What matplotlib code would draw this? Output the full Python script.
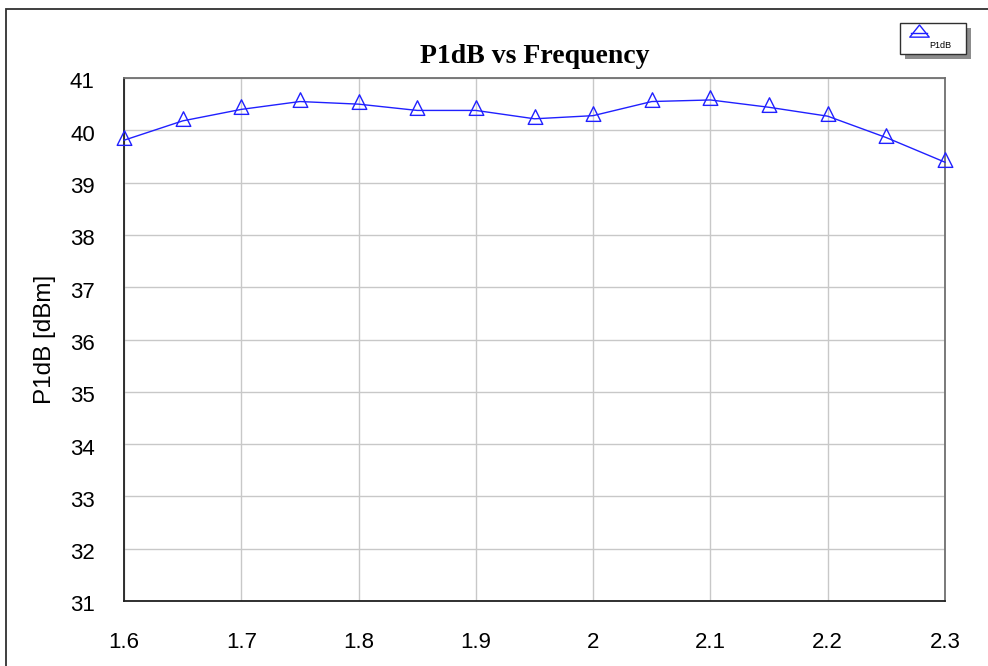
import matplotlib.pyplot as plt
from matplotlib.patches import Rectangle
from matplotlib.path import Path
from matplotlib.lines import Line2D
from matplotlib.transforms import ScaledTranslation

# P1dB measured across the band
freq = [1.6, 1.65, 1.7, 1.75, 1.8, 1.85, 1.9, 1.95, 2.0, 2.05, 2.1, 2.15, 2.2, 2.25, 2.3]
p1db = [39.81, 40.18, 40.40, 40.55, 40.50, 40.38, 40.38, 40.22, 40.28, 40.55, 40.58, 40.44, 40.27, 39.86, 39.39]

xticks = [1.6, 1.7, 1.8, 1.9, 2.0, 2.1, 2.2, 2.3]
xticklabels = ["1.6", "1.7", "1.8", "1.9", "2", "2.1", "2.2", "2.3"]
yticks = list(range(31, 42))

plt.rcParams["font.family"] = ["Liberation Sans", "DejaVu Sans"]

# triangle with its centroid on the data point
tri = Path([(0, 2), (-1.5, -1), (1.5, -1), (0, 2)],
           [Path.MOVETO, Path.LINETO, Path.LINETO, Path.CLOSEPOLY])
# flatter triangle for the legend key
tri_flat = Path([(0, 1.4), (-1.6, -0.6), (1.6, -0.6), (0, 1.4)],
                [Path.MOVETO, Path.LINETO, Path.LINETO, Path.CLOSEPOLY])

fig = plt.figure(figsize=(9.88, 6.66), dpi=100)
ax = fig.add_axes([124 / 988, 1 - 601 / 666, (945 - 124) / 988, (601 - 78) / 666])

ax.plot(freq, p1db, color="#2020ff", linewidth=1.0, marker=tri, markersize=14,
        markerfacecolor="none", markeredgecolor="#2020ff", markeredgewidth=1.0,
        clip_on=False, zorder=3)

ax.set_xlim(1.6, 2.3)
ax.set_ylim(31, 41)
ax.set_xticks(xticks)
ax.set_xticklabels(xticklabels)
ax.set_yticks(yticks)
ax.tick_params(axis="both", length=0, labelsize=16)
ax.tick_params(axis="x", pad=22)
ax.tick_params(axis="y", pad=21)
ax.grid(True, color="#c8c8c8", linewidth=1.0)
ax.set_axisbelow(True)

# y labels sit a little below their gridlines
shift = ScaledTranslation(0, -2.5 / 100, fig.dpi_scale_trans)
for lbl in ax.get_yticklabels():
    lbl.set_transform(lbl.get_transform() + shift)

for side in ["left", "bottom"]:
    ax.spines[side].set_color("#202020")
    ax.spines[side].set_linewidth(1.3)
for side in ["top", "right"]:
    ax.spines[side].set_color("#707070")
    ax.spines[side].set_linewidth(1.3)

ax.set_ylabel("P1dB [dBm]", fontsize=17.5, labelpad=10)
ax.set_title("P1dB vs Frequency", fontsize=20, fontweight="bold",
             family="Liberation Serif", pad=11)

# outer frame
fig.add_artist(Rectangle((6 / 988, -0.1), 1.1, (1 - 9 / 666) + 0.1,
                         transform=fig.transFigure, fill=False,
                         edgecolor="#303030", linewidth=1.3))

# legend box with drop shadow
fig.add_artist(Rectangle((905 / 988, 1 - 59 / 666), 66 / 988, 31 / 666,
                         transform=fig.transFigure, facecolor="#8c8c8c",
                         edgecolor="none"))
fig.add_artist(Rectangle((900 / 988, 1 - 54 / 666), 66 / 988, 31 / 666,
                         transform=fig.transFigure, facecolor="white",
                         edgecolor="#303030", linewidth=1.0))
fig.add_artist(Line2D([911 / 988, 927 / 988], [1 - 33 / 666, 1 - 33 / 666],
                      transform=fig.transFigure, color="#2020ff", linewidth=1.0))
fig.add_artist(Line2D([919 / 988], [1 - 33 / 666],
                      transform=fig.transFigure, linestyle="none",
                      marker=tri_flat, markersize=14,
                      markerfacecolor="none", markeredgecolor="#2020ff"))
fig.text(940 / 988, 1 - 45 / 666, "P1dB", fontsize=6.5, ha="center", va="center")

fig.savefig("out.png", dpi=100)
